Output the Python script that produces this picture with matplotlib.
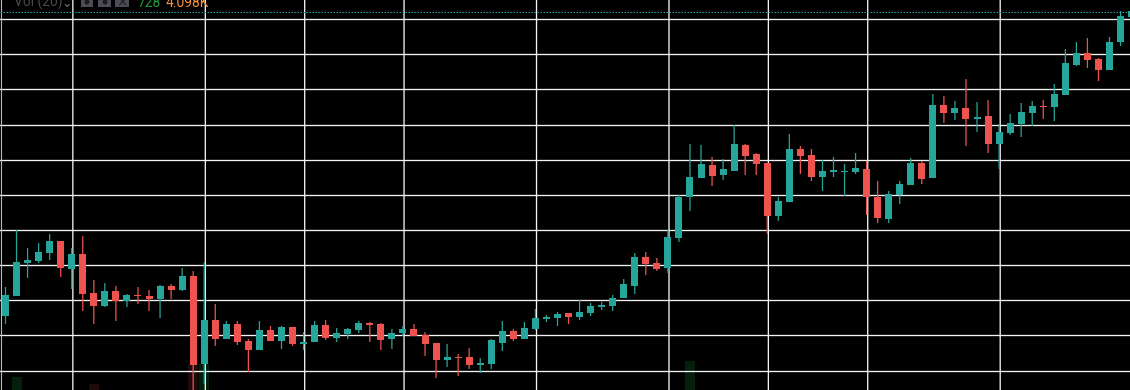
import matplotlib
matplotlib.use("Agg")
import matplotlib.pyplot as plt
from matplotlib.patches import FancyBboxPatch, Circle

UP = "#26a69a"
DOWN = "#ef5350"

# (body top, body bottom, high, low) per session; price units
body_top = [95,128,130,138,149,149,136,136,97,99,99,95,95,94,104,104,114,114,70,70,66,66,49,60,60,63,
            63,48,65,65,57,61,67,67,66,57,61,61,55,47,33,33,33,27,50,59,59,62,72,73,76,77,
            78,84,85,92,106,133,133,127,153,193,213,226,225,221,246,245,236,227,189,241,241,235,219,220,219,
            222,221,193,196,206,227,227,285,285,282,282,273,274,258,267,278,284,284,296,327,337,337,331,348,374,379]
body_bot = [74,94,127,129,137,122,121,96,84,84,89,89,94,91,91,100,100,25,26,51,51,48,40,40,49,49,
            46,46,48,52,52,56,60,65,50,51,57,54,46,30,30,32,25,25,26,47,51,51,61,71,72,73,
            73,77,83,84,92,104,126,121,122,152,193,212,214,215,219,234,226,174,174,188,234,213,213,218,218,
            218,193,172,171,195,205,211,212,277,277,271,271,246,246,257,266,277,283,283,295,325,330,320,320,348,373]
highs = [103,160,142,147,156,149,142,154,110,107,104,96,103,100,105,106,122,119,128,86,69,69,51,69,64,64,
         63,58,69,70,62,62,69,68,67,61,64,66,58,47,46,36,42,32,51,69,61,68,81,75,78,77,
         90,87,88,95,111,137,138,132,160,195,246,245,233,231,265,246,237,227,193,256,244,241,230,233,226,
         237,229,209,199,209,232,229,296,294,289,311,288,290,266,276,287,289,290,306,341,348,352,332,353,379,384]
lows = [66,94,112,127,130,113,101,79,66,83,69,83,86,79,72,91,99,0,6,44,51,45,18,40,49,41,
        44,40,48,50,48,51,57,48,40,41,54,54,34,12,23,14,21,17,21,39,49,51,60,68,64,66,
        70,74,80,79,92,96,115,119,117,148,179,212,204,210,219,215,215,156,169,188,216,209,199,213,194,
        216,175,167,167,186,205,206,212,267,270,244,258,237,221,255,253,264,271,269,295,324,322,309,320,344,373]
is_up = [1,1,1,1,1,0,1,0,0,1,0,1,0,0,1,0,1,0,1,0,1,0,0,1,0,1,
         0,1,1,0,1,1,1,0,0,1,1,0,0,0,1,0,0,1,1,1,0,1,1,1,1,0,
         1,1,1,1,1,1,0,0,1,1,1,1,0,1,1,0,0,0,1,1,0,0,1,1,1,
         1,0,0,1,1,1,0,1,0,1,0,1,0,1,1,1,1,0,1,1,1,0,0,1,1,1]

vol_sessions = [1, 8, 17, 18, 62]
vol_values = [13, 6, 26, 26, 29]
vol_colors = ["#04200a", "#210a0c", "#210a0c", "#04200a", "#04200a"]

last_price = 378.5
price_ticks = [370.5, 335.5, 300.5, 264.5, 229.5, 194.5, 159.5, 124.5, 89.5, 54.5, 18.5]
time_ticks = [6.1, 18.1, 27.1, 36.1, 48.1, 60.1, 69.1, 78.1, 90.1]

W, H = 1130, 390
fig = plt.figure(figsize=(W / 100, H / 100), dpi=100, facecolor="black")
ax = fig.add_axes([0, 0, 1, 1], facecolor="black")
ax.set_xlim(-0.498, W / 11.04 - 0.498)
ax.set_ylim(0, H)
for s in ax.spines.values():
    s.set_visible(False)
ax.tick_params(left=False, bottom=False, labelleft=False, labelbottom=False)
ax.set_xticks(time_ticks)
ax.set_yticks(price_ticks)
ax.grid(True, color="#f2f2f2", linewidth=0.95, zorder=1, snap=False)
ax.set_axisbelow(True)
ax.axvline(-0.45, color="#bbbbbb", linewidth=0.8, zorder=1)

xs = list(range(len(body_top)))
colors = [UP if u else DOWN for u in is_up]
ax.bar(vol_sessions, vol_values, width=0.9, color=vol_colors, linewidth=0, zorder=0.5)
ax.vlines(xs, lows, highs, colors=colors, linewidth=0.9, zorder=3, snap=False)
ax.bar(xs, [t - b for t, b in zip(body_top, body_bot)], bottom=body_bot,
       width=0.634, color=colors, linewidth=0, zorder=4)
ax.axhline(last_price, color=UP, linewidth=0.72, linestyle=(0, (1.5, 1.5)), zorder=2)

base = 1 - 7 / H
fig.text(14 / W, base, "Vol (20)", color="#4a4a4a", fontsize=10, family="Roboto", va="baseline")
fig.text(138 / W, base, "728", color="#1f9a3a", fontsize=10, family="Roboto", va="baseline")
fig.text(166 / W, base, "4.098K", color="#f5923e", fontsize=10, family="Roboto", va="baseline")
fig.text(67 / W, base, "\u2304", color="#777777", fontsize=9, family="DejaVu Sans", va="baseline", ha="center")
for x0, w in [(81, 12), (98, 13), (115, 14)]:
    fig.add_artist(FancyBboxPatch((x0 / W, 1 - 7 / H), w / W, 10 / H, transform=fig.transFigure,
                                  boxstyle="square,pad=0", facecolor="#4c4c56", edgecolor="none"))
for cx in (87, 105):
    fig.add_artist(Circle((cx, H - 2), 2.5, transform=None, facecolor="#1c1c1c", edgecolor="none"))
fig.text(122 / W, 1 - 6 / H, "\u00d7", color="#1c1c1c", fontsize=10, family="DejaVu Sans", va="baseline", ha="center")
fig.savefig("out.png", dpi=100, facecolor="black")
